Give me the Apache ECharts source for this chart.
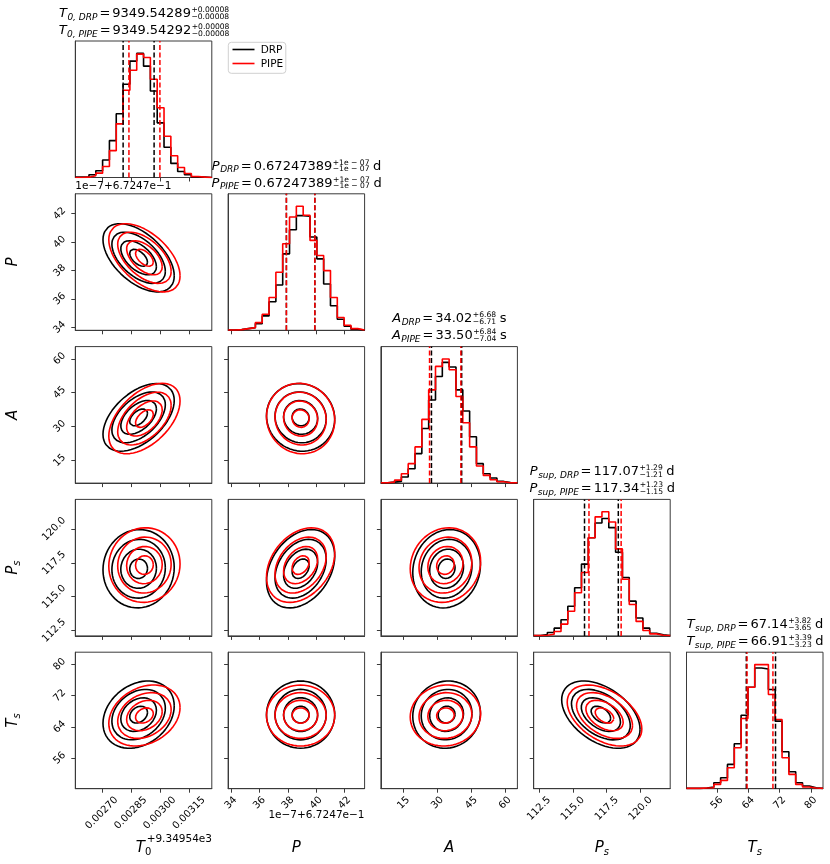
<!DOCTYPE html>
<html>
<head>
<meta charset="utf-8">
<script src="https://cdn.jsdelivr.net/npm/echarts@6/dist/echarts.min.js"></script>
<style>html,body{margin:0;padding:0;background:#fff}#main{width:830px;height:864px}</style>
</head>
<body>
<div id="main"></div>
<script>
// axis limits and ticks for T0, P, A, Ps, Ts
var paramRange = [[0.002563, 0.003268], [33.8, 43.4], [4.9, 65.4], [112.1, 122.2], [48.2, 83.1]];
var paramTicks = [[0.00270, 0.00285, 0.00300, 0.00315], [34, 36, 38, 40, 42], [15, 30, 45, 60], [112.5, 115.0, 117.5, 120.0], [56, 64, 72, 80]];
var tickDigits = [5, 0, 0, 1, 0];

// histogram counts, 20 bins over the axis range
var histT0DRP  = [1, 2, 8, 20, 52, 110, 190, 278, 347, 370, 332, 258, 163, 90, 42, 18, 8, 2, 1, 0];
var histT0PIPE = [0, 1, 5, 13, 33, 80, 160, 260, 320, 368, 358, 293, 208, 123, 65, 30, 12, 3, 1, 0];
var histPDRP   = [1, 2, 5, 8, 20, 43, 85, 135, 228, 300, 342, 340, 278, 213, 138, 73, 33, 12, 3, 1];
var histPPIPE  = [1, 2, 5, 8, 23, 48, 98, 173, 258, 338, 370, 343, 268, 223, 178, 98, 38, 15, 5, 1];
var histADRP   = [1, 3, 5, 18, 43, 88, 163, 248, 318, 360, 346, 278, 215, 138, 58, 28, 15, 5, 2, 1];
var histAPIPE  = [1, 3, 9, 28, 58, 108, 190, 278, 348, 370, 338, 258, 180, 108, 51, 23, 10, 4, 1, 1];
var histPsDRP  = [1, 4, 10, 23, 48, 88, 143, 213, 291, 335, 348, 321, 248, 173, 103, 53, 23, 8, 3, 1];
var histPsPIPE = [1, 2, 5, 13, 35, 73, 128, 188, 291, 353, 368, 338, 258, 168, 93, 43, 16, 6, 2, 1];
var histTsDRP  = [1, 1, 2, 5, 18, 33, 73, 135, 221, 305, 363, 360, 298, 203, 111, 51, 18, 8, 3, 1];
var histTsPIPE = [1, 1, 2, 3, 13, 25, 63, 123, 211, 305, 373, 373, 283, 208, 93, 43, 13, 5, 2, 1];
var histDRP  = [histT0DRP, histPDRP, histADRP, histPsDRP, histTsDRP];
var histPIPE = [histT0PIPE, histPPIPE, histAPIPE, histPsPIPE, histTsPIPE];

// 16% / 84% quantiles (dashed lines)
var quantDRP  = [[0.00281, 0.00297], [37.9, 39.9], [27.31, 40.70], [115.86, 118.36], [63.49, 70.96]];
var quantPIPE = [[0.00284, 0.00300], [37.9, 39.9], [26.46, 40.34], [116.19, 118.57], [63.68, 70.30]];

// 2d contours: centre, width and correlation
var centreDRP  = [0.00289, 38.9, 34.02, 117.07, 67.14];
var centrePIPE = [0.00292, 38.9, 33.50, 117.34, 66.91];
var widthDRP   = [0.000092, 1.2, 7.5, 1.45, 4.3];
var widthPIPE  = [0.000092, 1.2, 7.8, 1.38, 3.9];
var corr = [
  [1, 0, 0, 0, 0],
  [-0.53, 1, 0, 0, 0],
  [0.5, -0.05, 1, 0, 0],
  [0.03, 0.32, 0.1, 1, 0],
  [0.26, 0.0, 0.05, -0.44, 1]
];
var levels = [0.5, 1, 1.5, 2];

// panel titles: symbol, subscript, value, upper, lower, unit
var titleDRP = [
  ['T', '0, DRP', '9349.54289', '+0.00008', '\u22120.00008', ''],
  ['P', 'DRP', '0.67247389', '+1e \u2212 07', '\u22121e \u2212 07', ' d'],
  ['A', 'DRP', '34.02', '+6.68', '\u22126.71', ' s'],
  ['P', 'sup, DRP', '117.07', '+1.29', '\u22121.21', ' d'],
  ['T', 'sup, DRP', '67.14', '+3.82', '\u22123.65', ' d']
];
var titlePIPE = [
  ['T', '0, PIPE', '9349.54292', '+0.00008', '\u22120.00008', ''],
  ['P', 'PIPE', '0.67247389', '+1e \u2212 07', '\u22121e \u2212 07', ' d'],
  ['A', 'PIPE', '33.50', '+6.84', '\u22127.04', ' s'],
  ['P', 'sup, PIPE', '117.34', '+1.23', '\u22121.15', ' d'],
  ['T', 'sup, PIPE', '66.91', '+3.39', '\u22123.23', ' d']
];
var axisSymbols = [['T', '0'], ['P', ''], ['A', ''], ['P', 's'], ['T', 's']];

var FONT = '"DejaVu Sans"';
var TICK_FONT = 10;
var gridLeft0 = 75.3, gridTop0 = 41, gridStep = 152.8, gridSize = 136.5;

var measureCtx = document.createElement('canvas').getContext('2d');
function textWidth(t, size, italic){
	measureCtx.font = (italic ? 'italic ' : '') + size + 'px ' + FONT;
	return measureCtx.measureText(t).width;
}

// text placed by its baseline
function txt(x, baseY, t, size, italic, align){
	return {
		type: 'text', x: x, y: baseY - 0.35 * size, silent: true,
		style: {
			text: t, font: (italic ? 'italic ' : '') + size + 'px ' + FONT, fill: '#000',
			align: align || 'left', textAlign: align || 'left',
			verticalAlign: 'middle', textVerticalAlign: 'middle'
		}
	};
}

function addTitle(els, cx, baseY, p){
	var s1 = 13, s2 = 9, s3 = 7.6;
	var w0 = textWidth(p[0], s1, true);
	var w1 = textWidth(p[1], s2, true);
	var wEq = textWidth('=', s1, false) + 4;
	var w2 = textWidth(p[2], s1, false);
	var w3 = Math.max(textWidth(p[3], s3, false), textWidth(p[4], s3, false));
	var w4 = textWidth(p[5], s1, false);
	var x = cx - (w0 + w1 + wEq + w2 + w3 + w4) / 2;
	els.push(txt(x, baseY, p[0], s1, true)); x += w0 + 0.5;
	els.push(txt(x, baseY + 2.5, p[1], s2, true)); x += w1;
	els.push(txt(x + 2, baseY, '=', s1, false)); x += wEq;
	els.push(txt(x, baseY, p[2], s1, false)); x += w2;
	els.push(txt(x + 0.5, baseY - 5.6, p[3], s3, false));
	els.push(txt(x + 0.5, baseY + 1.2, p[4], s3, false)); x += w3;
	if(p[5]) els.push(txt(x, baseY, p[5], s1, false));
}

// axis name with a subscript, optionally rotated
function axisName(cx, cy, sym, rot){
	var s1 = 15, s2 = 10;
	var w0 = textWidth(sym[0], s1, true);
	var w1 = sym[1] ? textWidth(sym[1], s2, sym[1] !== '0') : 0;
	var x = -(w0 + w1) / 2;
	var kids = [txt(x, 0.35 * s1, sym[0], s1, true)];
	if(sym[1]) kids.push(txt(x + w0, 0.35 * s1 + 3, sym[1], s2, sym[1] !== '0'));
	return {type: 'group', x: cx, y: cy, rotation: rot, children: kids};
}

// half size of a 45 degree rotated tick label box
function labelHalf(j){
	var w = 0;
	paramTicks[j].forEach(function(v){ w = Math.max(w, textWidth(v.toFixed(tickDigits[j]), TICK_FONT, false)); });
	return (w + TICK_FONT * 1.05) * 0.7071 / 2;
}

function ellipse(mx, my, sx, sy, rho, k){
	var pts = [];
	for(var n = 0; n <= 60; n++){
		var t = 2 * Math.PI * n / 60;
		var u = Math.cos(t), v = Math.sin(t);
		pts.push([mx + k * sx * u, my + k * sy * (rho * u + Math.sqrt(1 - rho * rho) * v)]);
	}
	return pts;
}

function stepPoints(j, counts){
	var r = paramRange[j], w = (r[1] - r[0]) / counts.length, pts = [];
	for(var b = 0; b < counts.length; b++) pts.push([r[0] + b * w, counts[b]]);
	pts.push([r[1], counts[counts.length - 1]]);
	return pts;
}

function tickLabel(j, show, margin){
	return {show: show, customValues: paramTicks[j], rotate: 45, margin: margin,
		align: 'center', verticalAlign: 'middle',
		fontSize: TICK_FONT, fontFamily: 'DejaVu Sans', color: '#000',
		formatter: function(v){ return Number(v).toFixed(tickDigits[j]); }};
}

function createOption(){
	var grids = [], xAxes = [], yAxes = [], series = [], els = [];
	var axisColor = '#3a3a3a';
	var k = 0;
	for(var i = 0; i < 5; i++){
		for(var j = 0; j <= i; j++){
			grids.push({left: gridLeft0 + j * gridStep, top: gridTop0 + i * gridStep, width: gridSize, height: gridSize,
				show: true, borderColor: axisColor, borderWidth: 1});
			xAxes.push({
				gridIndex: k, type: 'value', min: paramRange[j][0], max: paramRange[j][1],
				axisLine: {show: true, onZero: false, lineStyle: {color: axisColor, width: 1}},
				axisTick: {show: true, length: 4, customValues: paramTicks[j], lineStyle: {color: axisColor}},
				axisLabel: tickLabel(j, i === 4, 6 + labelHalf(j)),
				splitLine: {show: false}
			});
			if(i === j){
				var top = 1.1 * Math.max(Math.max.apply(null, histDRP[i]), Math.max.apply(null, histPIPE[i]));
				yAxes.push({gridIndex: k, type: 'value', min: 0, max: top,
					axisLine: {show: true, onZero: false, lineStyle: {color: axisColor}},
					axisTick: {show: false}, axisLabel: {show: false}, splitLine: {show: false}});
				var sets = [[histDRP[i], quantDRP[i], '#000', 'DRP'], [histPIPE[i], quantPIPE[i], '#ff0000', 'PIPE']];
				for(var n = 0; n < sets.length; n++){
					var s = sets[n];
					series.push({
						name: s[3], type: 'line', xAxisIndex: k, yAxisIndex: k, data: stepPoints(i, s[0]),
						step: 'end', symbol: 'none', silent: true, z: 2 + n,
						lineStyle: {color: s[2], width: 1.6}
					});
					// quantile lines
					for(var q = 0; q < 2; q++){
						series.push({
							name: s[3], type: 'line', xAxisIndex: k, yAxisIndex: k, symbol: 'none', silent: true, z: 4 + n,
							data: [[s[1][q], 0], [s[1][q], top]],
							lineStyle: {color: s[2], width: 1.5, type: [5, 2.5]}
						});
					}
				}
				var cx = gridLeft0 + j * gridStep + gridSize / 2;
				var ty = gridTop0 + i * gridStep;
				addTitle(els, cx, ty - 23, titleDRP[i]);
				addTitle(els, cx, ty - 6, titlePIPE[i]);
			} else {
				yAxes.push({
					gridIndex: k, type: 'value', min: paramRange[i][0], max: paramRange[i][1],
					axisLine: {show: true, onZero: false, lineStyle: {color: axisColor}},
					axisTick: {show: true, length: 4, customValues: paramTicks[i], lineStyle: {color: axisColor}},
					axisLabel: tickLabel(i, j === 0, 7.5 + labelHalf(i)),
					splitLine: {show: false}
				});
				var cs = [[centreDRP, widthDRP, '#000', 'DRP'], [centrePIPE, widthPIPE, '#ff0000', 'PIPE']];
				for(var m = 0; m < cs.length; m++){
					for(var l = 0; l < levels.length; l++){
						series.push({
							name: cs[m][3], type: 'line', xAxisIndex: k, yAxisIndex: k, symbol: 'none', silent: true, z: 2 + m,
							data: ellipse(cs[m][0][j], cs[m][0][i], cs[m][1][j], cs[m][1][i], corr[i][j], levels[l]),
							lineStyle: {color: cs[m][2], width: 1.6}
						});
					}
				}
			}
			k++;
		}
	}

	// axis names
	for(var a = 0; a < 5; a++){
		els.push(axisName(gridLeft0 + a * gridStep + gridSize / 2, 848, axisSymbols[a], 0));
		if(a > 0) els.push(axisName(13, gridTop0 + a * gridStep + gridSize / 2, axisSymbols[a], Math.PI / 2));
	}
	// offset texts
	els.push(txt(212, 843, '+9.34954e3', 10.5, false, 'right'));
	els.push(txt(364.5, 818.5, '1e\u22127+6.7247e\u22121', 10.5, false, 'right'));
	els.push(txt(75.3, 190, '1e\u22127+6.7247e\u22121', 10.5, false, 'left'));

	// legend
	els.push({type: 'rect', shape: {x: 228.3, y: 42.3, width: 57.5, height: 31, r: 3}, silent: true,
		style: {fill: '#fff', stroke: '#d0d0d0', lineWidth: 1}});
	els.push({type: 'line', shape: {x1: 232.5, y1: 49.5, x2: 254.5, y2: 49.5}, silent: true, style: {stroke: '#000', lineWidth: 1.6}});
	els.push({type: 'line', shape: {x1: 232.5, y1: 63.5, x2: 254.5, y2: 63.5}, silent: true, style: {stroke: '#ff0000', lineWidth: 1.6}});
	els.push(txt(260.7, 53.5, 'DRP', 10.5, false));
	els.push(txt(260.7, 67.5, 'PIPE', 10.5, false));

	return {
		animation: false,
		backgroundColor: '#fff',
		grid: grids, xAxis: xAxes, yAxis: yAxes, series: series,
		graphic: {elements: els}
	};
}

var myChart = echarts.init(document.getElementById('main'));
myChart.setOption(createOption());
</script>
</body>
</html>
